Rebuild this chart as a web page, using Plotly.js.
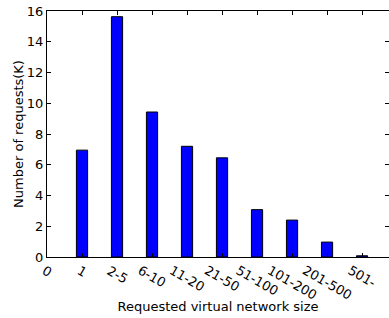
<!DOCTYPE html>
<html><head><meta charset="utf-8">
<script src="https://cdn.plot.ly/plotly-3.0.1.min.js"></script>
<style>body{margin:0;padding:0;background:#fff}#c{width:389px;height:318px}</style>
</head><body><div id="c"></div>
<script>
const positions = [1, 2, 3, 4, 5, 6, 7, 8, 9];
const categories = ["1", "2-5", "6-10", "11-20", "21-50", "51-100", "101-200", "201-500", "501-"];
const requestsK = [6.95, 15.63, 9.43, 7.2, 6.45, 3.08, 2.4, 0.97, 0.08];
const tickVals = [0].concat(positions);
const tickText = ["0"].concat(categories);

const font = {family: "DejaVu Sans", size: 13, color: "#000"};
const trace = {
  type: "bar", x: positions, y: requestsK, width: 0.32,
  marker: {color: "#0000ff", line: {color: "#000", width: 1}},
  hoverinfo: "none"
};
const tickAnnotations = tickVals.map((v, i) => ({
  x: v, xref: "x", y: 0, yref: "paper",
  text: tickText[i], showarrow: false, textangle: 30,
  xanchor: "center", yanchor: "top", yshift: -3,
  font: font
}));
const layout = {
  width: 389, height: 318,
  margin: {l: 47, r: 0, t: 11, b: 61},
  paper_bgcolor: "#fff", plot_bgcolor: "#fff",
  showlegend: false,
  bargap: 0,
  annotations: tickAnnotations,
  xaxis: {
    range: [0, 9.77], tickmode: "array", tickvals: tickVals,
    showticklabels: false,
    ticks: "inside", ticklen: 4, tickcolor: "#000",
    showline: true, linecolor: "#000", linewidth: 1, mirror: "ticks",
    showgrid: false, zeroline: false,
    title: {text: "Requested virtual network size", font: font, standoff: 44}
  },
  yaxis: {
    range: [0, 16], dtick: 2, ticks: "inside", ticklen: 4, tickcolor: "#000",
    showline: true, linecolor: "#000", linewidth: 1, mirror: "ticks",
    showgrid: false, zeroline: false, tickfont: font,
    title: {text: "Number of requests(K)", font: font, standoff: 0}
  }
};
Plotly.newPlot("c", [trace], layout, {staticPlot: true});
</script></body></html>
